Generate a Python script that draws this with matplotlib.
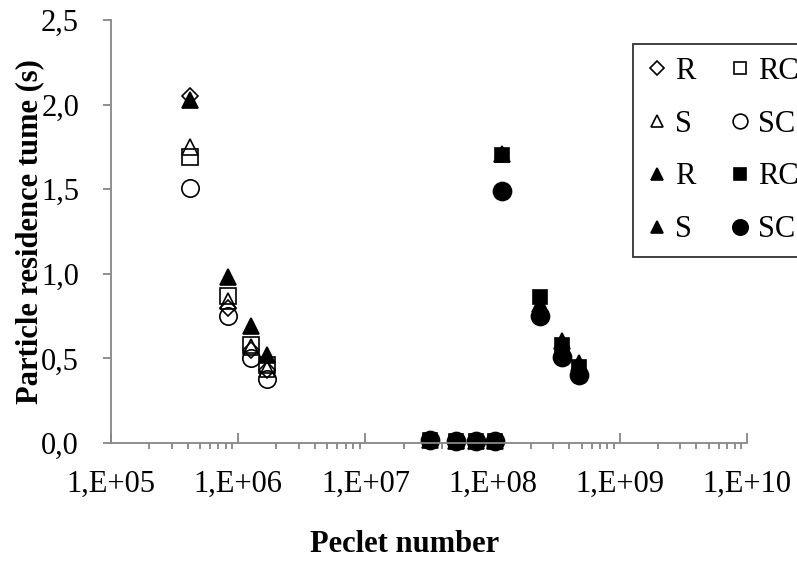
import matplotlib
matplotlib.use("Agg")
import matplotlib.pyplot as plt
import matplotlib.ticker as mticker
import numpy as np

plt.rcParams['font.family'] = ['Liberation Serif', 'DejaVu Serif']

# Peclet numbers
pe_left = [4.2e5, 8.3e5, 1.25e6, 1.68e6]
pe_zero = [3.2e7, 5.2e7, 7.4e7, 1.04e8]
pe_right = [1.19e8, 2.37e8, 3.53e8, 4.78e8]

# residence times (s)
r_open = [2.05, 0.80, 0.55, 0.43]
s_open = [1.75, 0.84, 0.57, 0.44]
rc_open = [1.69, 0.87, 0.58, 0.46]
sc_open = [1.51, 0.75, 0.50, 0.38]
zero_open = [0.02, 0.01, 0.01, 0.01]

r_filled = [2.03, 0.98, 0.69, 0.52]
s_filled = [1.71, 0.82, 0.60, 0.47]
rc_filled = [1.70, 0.86, 0.58, 0.45]
sc_filled = [1.49, 0.75, 0.51, 0.40]
zero_filled = [0.02, 0.01, 0.01, 0.01]

xticks = [1e5, 1e6, 1e7, 1e8, 1e9, 1e10]
xticklabels = ["1,E+05", "1,E+06", "1,E+07", "1,E+08", "1,E+09", "1,E+10"]
yticks = [0, 0.5, 1.0, 1.5, 2.0, 2.5]
yticklabels = ["0,0", "0,5", "1,0", "1,5", "2,0", "2,5"]

fig = plt.figure(figsize=(7.97, 5.62), dpi=100)
ax = fig.add_axes([111/797, 1-443/562, (747-111)/797, (443-20)/562])

FS = 22
lw = 1.2
h = []
# open markers
h.append(ax.plot(pe_left + pe_zero, r_open + zero_open, 'D', ms=8, mfc='none', mec='k', mew=lw, ls='none', label='R', clip_on=False)[0])
h.append(ax.plot(pe_left + pe_zero, s_open + zero_open, '^', ms=11, mfc='none', mec='k', mew=lw, ls='none', label='S', clip_on=False)[0])
# filled markers
h.append(ax.plot(pe_left, r_filled, '^', ms=11, mfc='k', mec='k', mew=lw, ls='none', label='R', clip_on=False)[0])
h.append(ax.plot(pe_right, s_filled, '^', ms=11, mfc='k', mec='k', mew=lw, ls='none', label='S', clip_on=False)[0])
h.insert(2, ax.plot(pe_left, rc_open, 's', ms=11, mfc='none', mec='k', mew=lw, ls='none', label='RC', clip_on=False)[0])
h.insert(3, ax.plot(pe_left, sc_open, 'o', ms=12.5, mfc='none', mec='k', mew=lw, ls='none', label='SC', clip_on=False)[0])
h.append(ax.plot(pe_right + pe_zero, rc_filled + zero_filled, 's', ms=10, mfc='k', mec='k', mew=lw, ls='none', label='RC', clip_on=False)[0])
h.append(ax.plot(pe_right + pe_zero, sc_filled + zero_filled, 'o', ms=13, mfc='k', mec='k', mew=lw, ls='none', label='SC', clip_on=False)[0])

# legend order: column 1 then column 2
order = [0, 1, 4, 5, 2, 3, 6, 7]
leg = ax.legend([h[i] for i in order], [h[i].get_label() for i in order],
                ncol=2, loc='upper left', bbox_to_anchor=(633/797, 1-44/562),
                bbox_transform=fig.transFigure, borderaxespad=0, fontsize=FS,
                markerscale=0.85, handlelength=0.7, handletextpad=0.25,
                columnspacing=1.1, labelspacing=0.78, borderpad=0.42,
                fancybox=False, frameon=True, edgecolor='k')
leg.get_frame().set_linewidth(1.3)

ax.set_xscale('log')
ax.set_xlim(1e5, 1e10)
ax.set_ylim(0, 2.5)
ax.set_xticks(xticks)
ax.set_xticklabels(xticklabels, fontsize=FS)
ax.set_yticks(yticks)
ax.set_yticklabels(yticklabels, fontsize=FS)
ax.xaxis.set_minor_locator(mticker.LogLocator(base=10, subs=np.arange(2, 10), numticks=20))
ax.xaxis.set_minor_formatter(mticker.NullFormatter())

gray = '#868686'
for s in ['top', 'right']:
    ax.spines[s].set_visible(False)
for s in ['left', 'bottom']:
    ax.spines[s].set_color(gray)
    ax.spines[s].set_linewidth(1.3)
ax.tick_params(axis='x', which='major', direction='in', length=7, width=1.3, color=gray, pad=19)
ax.tick_params(axis='x', which='minor', direction='out', length=4, width=1.3, color=gray)
ax.tick_params(axis='y', which='major', direction='out', length=6, width=1.3, color=gray, pad=17)

ax.set_xlabel("Peclet number", fontsize=FS, fontweight='bold')
ax.xaxis.set_label_coords((405-111)/636, -(545-443)/423)
ax.xaxis.label.set_va('center')
ax.set_ylabel("Particle residence tume (s)", fontsize=FS, fontweight='bold')
ax.yaxis.set_label_coords(-(111-30)/636, 0.5)
ax.yaxis.label.set_va('center')

fig.savefig("out.png", dpi=100)
